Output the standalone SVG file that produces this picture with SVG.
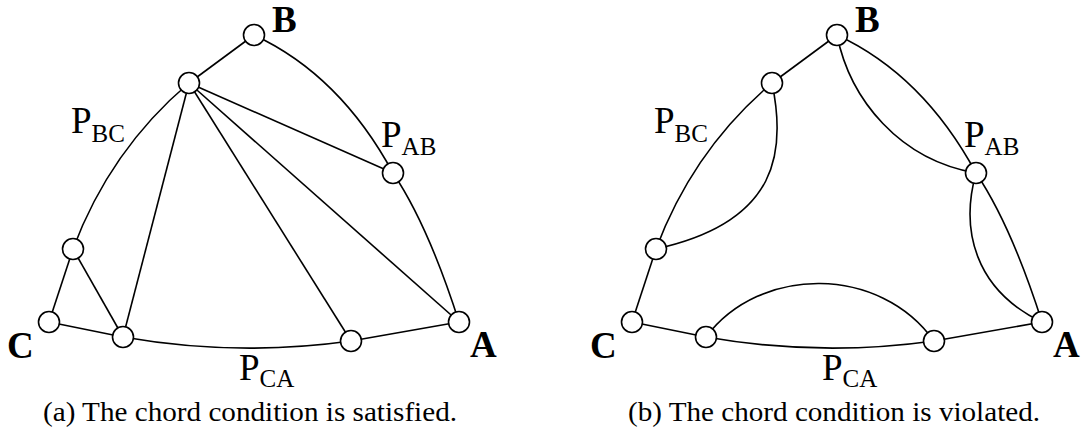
<svg xmlns="http://www.w3.org/2000/svg" width="1083" height="436" viewBox="0 0 1083 436">
<style>
.e{fill:none;stroke:#000;stroke-width:1.6}
.n{fill:#fff;stroke:#000;stroke-width:1.6}
.v{font-family:"Liberation Serif","Times New Roman",serif;font-weight:bold;font-size:37px}
.p{font-family:"Liberation Serif","Times New Roman",serif;font-size:37px}
.s{font-size:25px}
.c{font-family:"Liberation Serif","Times New Roman",serif;font-size:28px}
</style>
<rect width="1083" height="436" fill="#fff"/>
<g id="diagram-a">
<g id="edges-a">
<line class="e" x1="254" y1="35" x2="189" y2="83"/>
<path class="e" d="M254,35 Q340,75 393,173"/>
<path class="e" d="M393,173 Q428,225 459,322"/>
<path class="e" d="M189,83 Q110,150 73,249"/>
<line class="e" x1="73" y1="249" x2="49" y2="322"/>
<line class="e" x1="49" y1="322" x2="123" y2="337"/>
<path class="e" d="M123,337 Q237,357 351,341"/>
<line class="e" x1="351" y1="341" x2="459" y2="322"/>
<line class="e" x1="189" y1="83" x2="393" y2="173"/>
<line class="e" x1="189" y1="83" x2="459" y2="322"/>
<line class="e" x1="189" y1="83" x2="351" y2="341"/>
<line class="e" x1="189" y1="83" x2="123" y2="337"/>
<line class="e" x1="73" y1="249" x2="123" y2="337"/>
</g>
<g id="a-nB"><circle class="n" cx="254" cy="35" r="10.5"/></g>
<g id="a-nTop"><circle class="n" cx="189" cy="83" r="10.5"/></g>
<g id="a-nAB"><circle class="n" cx="393" cy="173" r="10.5"/></g>
<g id="a-nBC"><circle class="n" cx="73" cy="249" r="10.5"/></g>
<g id="a-nC"><circle class="n" cx="49" cy="322" r="10.5"/></g>
<g id="a-nCA1"><circle class="n" cx="123" cy="337" r="10.5"/></g>
<g id="a-nCA2"><circle class="n" cx="351" cy="341" r="10.5"/></g>
<g id="a-nA"><circle class="n" cx="459" cy="322" r="10.5"/></g>
<text class="v" x="272" y="32">B</text>
<text class="v" x="7" y="358">C</text>
<text class="v" x="470" y="357">A</text>
<text class="p" x="71" y="133">P<tspan class="s" dy="9">BC</tspan></text>
<text class="p" x="381" y="147">P<tspan class="s" dy="8">AB</tspan></text>
<text class="p" x="239" y="380">P<tspan class="s" dy="7">CA</tspan></text>
<text class="c" x="43" y="421" textLength="414" lengthAdjust="spacingAndGlyphs">(a) The chord condition is satisfied.</text>
</g>
<g id="diagram-b">
<g id="edges-b">
<line class="e" x1="837" y1="35" x2="772" y2="83"/>
<path class="e" d="M837,35 Q923,75 976,173"/>
<path class="e" d="M976,173 Q1011,225 1042,322"/>
<path class="e" d="M772,83 Q693,150 656,249"/>
<line class="e" x1="656" y1="249" x2="632" y2="322"/>
<line class="e" x1="632" y1="322" x2="706" y2="337"/>
<path class="e" d="M706,337 Q820,357 934,341"/>
<line class="e" x1="934" y1="341" x2="1042" y2="322"/>
<path class="e" d="M772,83 C786,150 780,222 656,249"/>
<path class="e" d="M837,35 C850,100 900,160 976,173"/>
<path class="e" d="M976,173 C960,230 975,290 1042,322"/>
<path class="e" d="M706,337 C760,265 880,265 934,341"/>
</g>
<g id="b-nB"><circle class="n" cx="837" cy="35" r="10.5"/></g>
<g id="b-nTop"><circle class="n" cx="772" cy="83" r="10.5"/></g>
<g id="b-nAB"><circle class="n" cx="976" cy="173" r="10.5"/></g>
<g id="b-nBC"><circle class="n" cx="656" cy="249" r="10.5"/></g>
<g id="b-nC"><circle class="n" cx="632" cy="322" r="10.5"/></g>
<g id="b-nCA1"><circle class="n" cx="706" cy="337" r="10.5"/></g>
<g id="b-nCA2"><circle class="n" cx="934" cy="341" r="10.5"/></g>
<g id="b-nA"><circle class="n" cx="1042" cy="322" r="10.5"/></g>
<text class="v" x="855" y="32">B</text>
<text class="v" x="590" y="358">C</text>
<text class="v" x="1053" y="357">A</text>
<text class="p" x="654" y="133">P<tspan class="s" dy="9">BC</tspan></text>
<text class="p" x="964" y="147">P<tspan class="s" dy="8">AB</tspan></text>
<text class="p" x="822" y="380">P<tspan class="s" dy="7">CA</tspan></text>
<text class="c" x="628" y="421" textLength="412" lengthAdjust="spacingAndGlyphs">(b) The chord condition is violated.</text>
</g>
</svg>
